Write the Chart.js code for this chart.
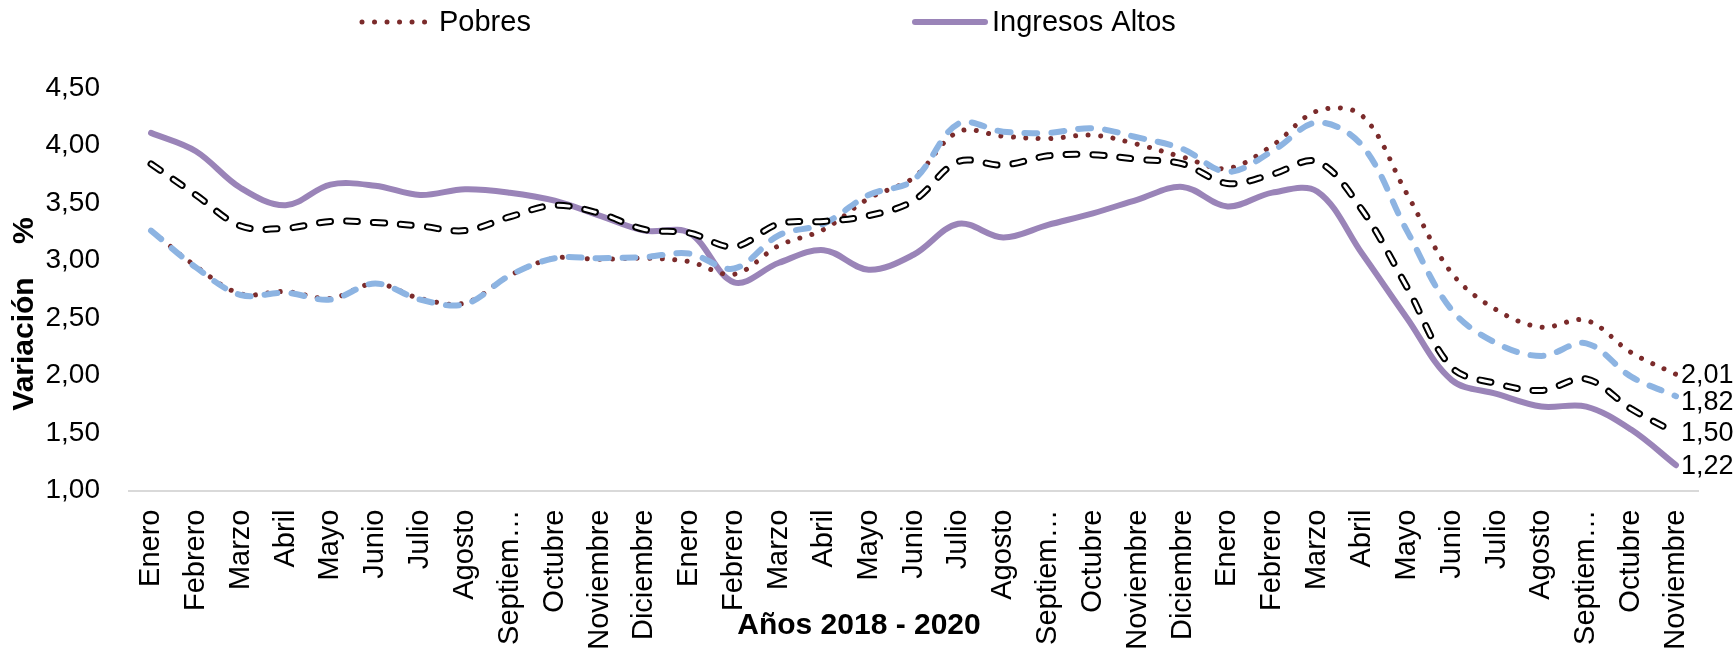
<!DOCTYPE html>
<html>
<head>
<meta charset="utf-8">
<script src="https://cdn.jsdelivr.net/npm/chart.js@4.4.0/dist/chart.umd.min.js"></script>
<style>
  html, body { margin: 0; padding: 0; background: #fff; }
</style>
</head>
<body>
<canvas id="lineChart" width="1736" height="650"></canvas>
<script>
var categorias = [
  'Enero', 'Febrero', 'Marzo', 'Abril', 'Mayo', 'Junio', 'Julio', 'Agosto', 'Septiembre', 'Octubre', 'Noviembre', 'Diciembre',
  'Enero', 'Febrero', 'Marzo', 'Abril', 'Mayo', 'Junio', 'Julio', 'Agosto', 'Septiembre', 'Octubre', 'Noviembre', 'Diciembre',
  'Enero', 'Febrero', 'Marzo', 'Abril', 'Mayo', 'Junio', 'Julio', 'Agosto', 'Septiembre', 'Octubre', 'Noviembre'
];

var pobres = [3.26, 2.95, 2.71, 2.73, 2.67, 2.80, 2.67, 2.63, 2.87, 3.02, 3.01, 3.02,
  2.99, 2.88, 3.13, 3.27, 3.54, 3.72, 4.12, 4.08, 4.06, 4.09, 4.01, 3.90,
  3.80, 4.00, 4.30, 4.26, 3.58, 2.89, 2.57, 2.42, 2.48, 2.20, 2.01];

var vulnerables = [3.26, 2.94, 2.70, 2.72, 2.66, 2.80, 2.66, 2.62, 2.87, 3.02, 3.02, 3.03,
  3.06, 2.93, 3.22, 3.32, 3.57, 3.70, 4.19, 4.12, 4.11, 4.15, 4.07, 3.97,
  3.77, 3.95, 4.20, 4.00, 3.26, 2.57, 2.28, 2.17, 2.28, 1.99, 1.82];

var claseMedia = [3.84, 3.57, 3.30, 3.28, 3.34, 3.33, 3.30, 3.26, 3.38, 3.48, 3.41, 3.27,
  3.24, 3.12, 3.32, 3.34, 3.39, 3.52, 3.86, 3.83, 3.91, 3.92, 3.88, 3.84,
  3.67, 3.75, 3.86, 3.44, 2.77, 2.07, 1.93, 1.87, 1.97, 1.71, 1.50];

var ingresosAltos = [4.11, 3.95, 3.63, 3.48, 3.66, 3.65, 3.57, 3.62, 3.59, 3.52, 3.39, 3.26,
  3.24, 2.81, 2.98, 3.09, 2.92, 3.05, 3.32, 3.20, 3.31, 3.41, 3.53, 3.64,
  3.47, 3.59, 3.60, 3.06, 2.50, 1.96, 1.84, 1.73, 1.73, 1.53, 1.22];

var yMin = 1;
var yMax = 4.5;
var yPaso = 0.5;

var fuente = "'Liberation Sans', Arial, sans-serif";
Chart.defaults.font.family = fuente;
Chart.defaults.color = '#000';

function coma(v) {
  return Number(v).toFixed(2).replace('.', ',');
}

// leyenda a mano: solo dos series aparecen en la leyenda original
var leyendaX = [362, 915];
var leyendaPlugin = {
  id: 'leyenda',
  afterDraw: function (chart) {
    var ctx = chart.ctx;
    var y = 22;
    var k = 0;
    chart.data.datasets.forEach(function (ds) {
      if (!ds.enLeyenda) return;
      var x = leyendaX[k++];
      ctx.save();
      ctx.strokeStyle = ds.borderColor;
      ctx.lineWidth = ds.borderWidth;
      ctx.lineCap = 'round';
      ctx.setLineDash(ds.borderDash || []);
      ctx.beginPath();
      ctx.moveTo(x, y);
      ctx.lineTo(x + 70, y);
      ctx.stroke();
      ctx.setLineDash([]);
      ctx.fillStyle = '#000';
      ctx.font = '29px ' + fuente;
      ctx.textBaseline = 'middle';
      ctx.textAlign = 'left';
      ctx.fillText(ds.label, x + 77, y + 1);
      ctx.restore();
    });
  }
};

// valores al final de cada serie y títulos de ejes
var etiquetasPlugin = {
  id: 'etiquetas',
  afterDatasetsDraw: function (chart) {
    var ctx = chart.ctx;
    var items = [];
    chart.data.datasets.forEach(function (ds, i) {
      if (!ds.etiquetaFinal) return;
      var meta = chart.getDatasetMeta(i);
      var pt = meta.data[meta.data.length - 1];
      items.push({ x: pt.x, y: pt.y, v: ds.data[ds.data.length - 1] });
    });
    items.sort(function (a, b) { return a.y - b.y; });
    ctx.save();
    ctx.font = '27px ' + fuente;
    ctx.fillStyle = '#000';
    ctx.textBaseline = 'middle';
    ctx.textAlign = 'left';
    var ultimo = -1000;
    items.forEach(function (it) {
      var y = Math.max(it.y, ultimo + 27);
      ultimo = y;
      ctx.fillText(coma(it.v), it.x + 5, y + 1);
    });

    ctx.font = 'bold 30px ' + fuente;
    ctx.textAlign = 'center';
    ctx.fillText('Años 2018 - 2020', 859, 626);

    ctx.translate(25, 314);
    ctx.rotate(-Math.PI / 2);
    ctx.fillText('Variación    %', 0, 0);
    ctx.restore();
  }
};

var lineChartCanvas = document.getElementById('lineChart').getContext('2d');

var lineData = {
  labels: categorias,
  datasets: [
    {
      label: 'Pobres',
      data: pobres,
      borderColor: '#7B2B2B',
      borderWidth: 5,
      borderDash: [0.01, 12.5],
      borderCapStyle: 'round',
      enLeyenda: true,
      etiquetaFinal: true,
      order: 3
    },
    {
      label: 'Vulnerables',
      data: vulnerables,
      borderColor: '#8DB4E2',
      borderWidth: 6,
      borderDash: [13, 14],
      borderCapStyle: 'round',
      etiquetaFinal: true,
      order: 2
    },
    {
      label: 'Clase media',
      data: claseMedia,
      borderColor: '#000000',
      borderWidth: 7,
      borderDash: [11, 16],
      borderCapStyle: 'round',
      etiquetaFinal: true,
      order: 1
    },
    {
      label: 'Ingresos Altos',
      data: ingresosAltos,
      borderColor: '#9A84B8',
      borderWidth: 6,
      borderCapStyle: 'round',
      enLeyenda: true,
      etiquetaFinal: true,
      order: 4
    },
    {
      // relleno blanco de la línea discontinua negra
      label: 'Clase media (relleno)',
      data: claseMedia,
      borderColor: '#ffffff',
      borderWidth: 3,
      borderDash: [11, 16],
      borderCapStyle: 'round',
      order: 0
    }
  ]
};

var lineOptions = {
  responsive: false,
  animation: false,
  layout: { padding: { left: 0, top: 88, right: 37.6, bottom: 0 } },
  elements: {
    line: { tension: 0.35, fill: false },
    point: { radius: 0, hoverRadius: 0 }
  },
  plugins: {
    legend: { display: false },
    tooltip: { enabled: false }
  },
  scales: {
    x: {
      offset: true,
      grid: { display: false, drawTicks: false },
      border: { display: true, color: '#D9D9D9', width: 2 },
      ticks: {
        autoSkip: false,
        minRotation: 90,
        maxRotation: 90,
        padding: 19,
        color: '#000',
        font: { size: 29 },
        callback: function (value) {
          var t = this.getLabelForValue(value);
          return t.length > 9 ? t.slice(0, 7) + '…' : t;
        }
      },
      afterFit: function (scale) { scale.height = 159.5; }
    },
    y: {
      min: yMin,
      max: yMax,
      grid: { display: false, drawTicks: false },
      border: { display: false },
      ticks: {
        stepSize: yPaso,
        padding: 28.6,
        color: '#000',
        font: { size: 28 },
        callback: function (value) { return coma(value); }
      },
      afterFit: function (scale) { scale.width = 128.6; }
    }
  }
};

var lineChart = new Chart(lineChartCanvas, {
  type: 'line',
  data: lineData,
  options: lineOptions,
  plugins: [leyendaPlugin, etiquetasPlugin]
});
</script>
</body>
</html>
